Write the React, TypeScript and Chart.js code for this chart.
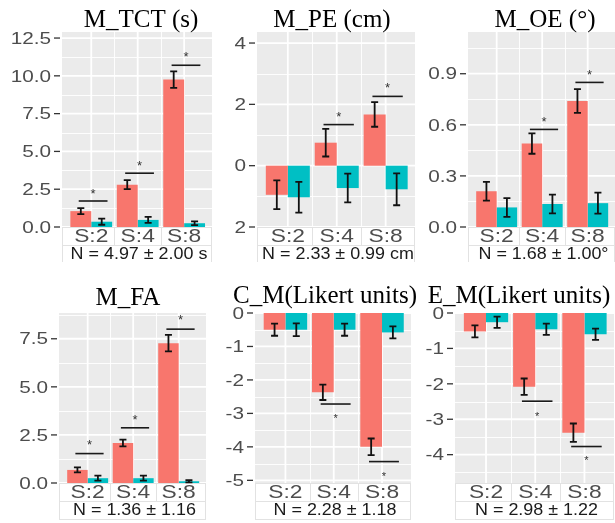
import React, { useEffect, useRef } from 'react';
import { Chart, registerables } from 'chart.js';
Chart.register(...registerables);

// ---------- data ----------
const categories = ['S:2', 'S:4', 'S:8'];

// M_TCT (s)
const tctRed = [1.05, 2.8, 9.75];
const tctRedErr = [0.2, 0.3, 0.55];
const tctTeal = [0.35, 0.47, 0.25];
const tctTealErr = [0.2, 0.2, 0.12];
const tctSig = [1.72, 3.56, 10.7];
const tctStar = [2.45, 4.3, 11.5];
const tctTicks = [0, 2.5, 5, 7.5, 10, 12.5];
const tctTickLabels = ['0.0', '2.5', '5.0', '7.5', '10.0', '12.5'];
const tctMinor = [1.25, 3.75, 6.25, 8.75, 11.25];

// M_PE (cm)
const peRed = [-0.95, 0.75, 1.67];
const peRedErr = [0.47, 0.45, 0.4];
const peTeal = [-1.03, -0.73, -0.77];
const peTealErr = [0.5, 0.47, 0.52];
const peSig = [null, 1.34, 2.26];
const peStar = [null, 1.69, 2.64];
const peTicks = [-2, 0, 2, 4];
const peTickLabels = ['2', '0', '2', '4'];
const peMinor = [-1, 1, 3];

// M_OE (°)
const oeRed = [0.21, 0.49, 0.74];
const oeRedErr = [0.055, 0.06, 0.07];
const oeTeal = [0.115, 0.135, 0.14];
const oeTealErr = [0.055, 0.055, 0.062];
const oeSig = [null, 0.573, 0.849];
const oeStar = [null, 0.638, 0.916];
const oeTicks = [0, 0.3, 0.6, 0.9];
const oeTickLabels = ['0.0', '0.3', '0.6', '0.9'];
const oeMinor = [0.15, 0.45, 0.75, 1.05];

// M_FA
const faRed = [0.68, 2.08, 7.27];
const faRedErr = [0.13, 0.18, 0.43];
const faTeal = [0.25, 0.25, 0.09];
const faTealErr = [0.13, 0.13, 0.06];
const faSig = [1.53, 2.87, 8.0];
const faStar = [2.14, 3.44, 8.65];
const faTicks = [0, 2.5, 5, 7.5];
const faTickLabels = ['0.0', '2.5', '5.0', '7.5'];
const faMinor = [1.25, 3.75, 6.25, 8.75];

// C_M (Likert units)
const cmRed = [-0.5, -2.37, -4.0];
const cmRedErr = [0.18, 0.23, 0.25];
const cmTeal = [-0.5, -0.5, -0.58];
const cmTealErr = [0.19, 0.18, 0.18];
const cmSig = [null, -2.72, -4.44];
const cmStar = [null, -3.07, -4.8];
const cmTicks = [-5, -4, -3, -2, -1, 0];
const cmTickLabels = ['-5', '-4', '-3', '-2', '-1', '0'];
const cmMinor = [-4.5, -3.5, -2.5, -1.5, -0.5];

// E_M (Likert units)
const emRed = [-0.52, -2.08, -3.38];
const emRedErr = [0.17, 0.23, 0.26];
const emTeal = [-0.26, -0.46, -0.6];
const emTealErr = [0.16, 0.16, 0.16];
const emSig = [null, -2.49, -3.77];
const emStar = [null, -2.84, -4.08];
const emTicks = [-4, -3, -2, -1, 0];
const emTickLabels = ['-4', '-3', '-2', '-1', '0'];
const emMinor = [-4.5, -3.5, -2.5, -1.5, -0.5];

// ---------- styles / layout ----------
const RED = '#F8766D';
const TEAL = '#00BFC4';
const PANEL_BG = '#EBEBEB';
const AXIS_TEXT = '#4D4D4D';
const XMIN = 0.37;
const XMAX = 3.6;

type Panel = {
  title: string; nText: string;
  red: number[]; redErr: number[]; teal: number[]; tealErr: number[];
  sig: (number | null)[]; star: (number | null)[];
  ticks: number[]; tickLabels: string[]; minor: number[];
  yMin: number; yMax: number;
  left: number; top: number; w: number; h: number;
  pl: number; pr: number; pt: number; pb: number;
  titleX: number; titleY: number; starSize: number;
};

const panels: Panel[] = [
  { title: 'M_TCT (s)', nText: 'N = 4.97 ± 2.00 s', red: tctRed, redErr: tctRedErr, teal: tctTeal, tealErr: tctTealErr,
    sig: tctSig, star: tctStar, ticks: tctTicks, tickLabels: tctTickLabels, minor: tctMinor, yMin: 0, yMax: 12.9,
    left: 0, top: 0, w: 214, h: 262, pl: 62, pr: 2, pt: 32, pb: 35, titleX: 141, titleY: 27, starSize: 13 },
  { title: 'M_PE (cm)', nText: 'N = 2.33 ± 0.99 cm', red: peRed, redErr: peRedErr, teal: peTeal, tealErr: peTealErr,
    sig: peSig, star: peStar, ticks: peTicks, tickLabels: peTickLabels, minor: peMinor, yMin: -2, yMax: 4.36,
    left: 214, top: 0, w: 204, h: 262, pl: 43, pr: 3, pt: 32, pb: 35, titleX: 332, titleY: 27, starSize: 13 },
  { title: 'M_OE (°)', nText: 'N = 1.68 ± 1.00°', red: oeRed, redErr: oeRedErr, teal: oeTeal, tealErr: oeTealErr,
    sig: oeSig, star: oeStar, ticks: oeTicks, tickLabels: oeTickLabels, minor: oeMinor, yMin: 0, yMax: 1.145,
    left: 418, top: 0, w: 197, h: 262, pl: 50, pr: 0, pt: 32, pb: 35, titleX: 545, titleY: 27, starSize: 13 },
  { title: 'M_FA', nText: 'N = 1.36 ± 1.16', red: faRed, redErr: faRedErr, teal: faTeal, tealErr: faTealErr,
    sig: faSig, star: faStar, ticks: faTicks, tickLabels: faTickLabels, minor: faMinor, yMin: 0, yMax: 8.84,
    left: 0, top: 262, w: 212, h: 261, pl: 59, pr: 6, pt: 51, pb: 40, titleX: 128, titleY: 305, starSize: 13 },
  { title: 'C_M(Likert units)', nText: 'N = 2.28 ± 1.18', red: cmRed, redErr: cmRedErr, teal: cmTeal, tealErr: cmTealErr,
    sig: cmSig, star: cmStar, ticks: cmTicks, tickLabels: cmTickLabels, minor: cmMinor, yMin: -5.08, yMax: 0,
    left: 212, top: 262, w: 210, h: 261, pl: 43, pr: 11, pt: 51, pb: 40, titleX: 325, titleY: 303, starSize: 11 },
  { title: 'E_M(Likert units)', nText: 'N = 2.98 ± 1.22', red: emRed, redErr: emRedErr, teal: emTeal, tealErr: emTealErr,
    sig: emSig, star: emStar, ticks: emTicks, tickLabels: emTickLabels, minor: emMinor, yMin: -4.8, yMax: 0,
    left: 422, top: 262, w: 193, h: 261, pl: 33, pr: 1, pt: 51, pb: 40, titleX: 519, titleY: 303, starSize: 11 },
];

function txt(ctx: CanvasRenderingContext2D, s: string, x: number, y: number, font: string, color: string,
  align: CanvasTextAlign, sx: number, baseline: CanvasTextBaseline = 'middle') {
  ctx.save();
  ctx.translate(x, y);
  ctx.scale(sx, 1);
  ctx.font = font;
  ctx.fillStyle = color;
  ctx.textAlign = align;
  ctx.textBaseline = baseline;
  ctx.fillText(s, 0, 0);
  ctx.restore();
}

function makeBgPlugin(p: Panel) {
  return {
    id: 'bgPanel',
    beforeDatasetsDraw(chart: any) {
      const ctx: CanvasRenderingContext2D = chart.ctx;
      const { left: l, right: r, top: t, bottom: b } = chart.chartArea;
      const xs = chart.scales.x;
      const ys = chart.scales.y;
      ctx.save();
      ctx.fillStyle = PANEL_BG;
      ctx.fillRect(l, t, r - l, b - t);
      ctx.strokeStyle = '#FFFFFF';
      // minor grid
      ctx.lineWidth = 0.9;
      for (const v of p.minor) {
        const y = Math.round(ys.getPixelForValue(v)) + 0.5;
        ctx.beginPath(); ctx.moveTo(l, y); ctx.lineTo(r, y); ctx.stroke();
      }
      for (const v of [1.5, 2.5]) {
        const x = Math.round(xs.getPixelForValue(v)) + 0.5;
        ctx.beginPath(); ctx.moveTo(x, t); ctx.lineTo(x, b); ctx.stroke();
      }
      // major grid
      ctx.lineWidth = 1.8;
      for (const v of p.ticks) {
        const y = ys.getPixelForValue(v);
        ctx.beginPath(); ctx.moveTo(l, y); ctx.lineTo(r, y); ctx.stroke();
      }
      categories.forEach((_, i) => {
        const x = xs.getPixelForValue(i + 1);
        ctx.beginPath(); ctx.moveTo(x, t); ctx.lineTo(x, b); ctx.stroke();
      });
      // y tick marks + labels
      ctx.strokeStyle = '#333333';
      ctx.lineWidth = 1.3;
      p.ticks.forEach((v, i) => {
        const y = ys.getPixelForValue(v);
        ctx.beginPath(); ctx.moveTo(l - 8, y); ctx.lineTo(l - 2, y); ctx.stroke();
        txt(ctx, p.tickLabels[i], l - 11, y + 1, '17px "Liberation Sans", Arial, sans-serif', AXIS_TEXT, 'right', 1.22);
      });
      // label cells
      ctx.strokeStyle = '#E2E2E2';
      ctx.lineWidth = 1;
      ctx.strokeRect(l + 0.5, b + 0.5, r - l - 1, 18);
      ctx.strokeRect(l + 0.5, b + 18.5, r - l - 1, 18);
      for (const v of [1.5, 2.5]) {
        const x = Math.round(xs.getPixelForValue(v)) + 0.5;
        ctx.beginPath(); ctx.moveTo(x, b); ctx.lineTo(x, b + 18); ctx.stroke();
      }
      categories.forEach((c, i) => {
        txt(ctx, c, xs.getPixelForValue(i + 1), b + 10, '19px "Liberation Sans", Arial, sans-serif', AXIS_TEXT, 'center', 1.2);
      });
      txt(ctx, p.nText, (l + r) / 2 + 2, b + 28, '16px "Liberation Sans", Arial, sans-serif', '#1A1A1A', 'center', 1.12);
      // title
      txt(ctx, p.title, p.titleX - p.left, p.titleY - p.top, '25px "Liberation Serif", "Times New Roman", serif', '#000000', 'center', 1, 'alphabetic');
      ctx.restore();
    },
  };
}

function makeFgPlugin(p: Panel) {
  return {
    id: 'fgPanel',
    afterDatasetsDraw(chart: any) {
      const ctx: CanvasRenderingContext2D = chart.ctx;
      const xs = chart.scales.x;
      const ys = chart.scales.y;
      ctx.save();
      ctx.strokeStyle = '#111111';
      ctx.lineWidth = 1.8;
      const sets = [[p.red, p.redErr], [p.teal, p.tealErr]];
      sets.forEach(([vals, errs], di) => {
        const meta = chart.getDatasetMeta(di);
        vals.forEach((v, i) => {
          const x = meta.data[i].x;
          const y1 = ys.getPixelForValue(v + errs[i]);
          const y2 = ys.getPixelForValue(v - errs[i]);
          ctx.beginPath();
          ctx.moveTo(x, y1); ctx.lineTo(x, y2);
          ctx.moveTo(x - 3.5, y1); ctx.lineTo(x + 3.5, y1);
          ctx.moveTo(x - 3.5, y2); ctx.lineTo(x + 3.5, y2);
          ctx.stroke();
        });
      });
      // significance lines and stars
      ctx.strokeStyle = '#1A1A1A';
      ctx.lineWidth = 1.6;
      p.sig.forEach((s, i) => {
        if (s === null) return;
        const x1 = xs.getPixelForValue(i + 1 - 0.27);
        const x2 = xs.getPixelForValue(i + 1 + 0.35);
        const y = ys.getPixelForValue(s);
        ctx.beginPath(); ctx.moveTo(x1, y); ctx.lineTo(x2, y); ctx.stroke();
        const st = p.star[i];
        if (st !== null) {
          const sy = ys.getPixelForValue(st);
          txt(ctx, '*', (x1 + x2) / 2, sy + p.starSize * 0.58, `${p.starSize}px "Liberation Sans", Arial, sans-serif`, '#333333', 'center', 1, 'alphabetic');
        }
      });
      ctx.restore();
    },
  };
}

function PanelChart({ p }: { p: Panel }) {
  const ref = useRef<HTMLCanvasElement>(null);
  useEffect(() => {
    const canvas = ref.current!;
    const chart = new Chart(canvas, {
      type: 'bar',
      data: {
        datasets: [
          { label: 'a', data: p.red.map((v, i) => ({ x: i + 1, y: v })), backgroundColor: RED, borderWidth: 0 },
          { label: 'b', data: p.teal.map((v, i) => ({ x: i + 1, y: v })), backgroundColor: TEAL, borderWidth: 0 },
        ],
      } as any,
      options: {
        responsive: false,
        animation: false,
        devicePixelRatio: 1,
        layout: { padding: { left: p.pl, right: p.pr, top: p.pt, bottom: p.pb } },
        plugins: { legend: { display: false }, tooltip: { enabled: false }, title: { display: false } },
        datasets: { bar: { categoryPercentage: 0.9, barPercentage: 1 } },
        scales: {
          x: { type: 'linear', min: XMIN, max: XMAX, display: false, offset: false },
          y: { type: 'linear', min: p.yMin, max: p.yMax, display: false },
        },
      } as any,
      plugins: [makeBgPlugin(p), makeFgPlugin(p)],
    });
    return () => chart.destroy();
  }, [p]);
  return (
    <canvas
      ref={ref}
      width={p.w}
      height={p.h}
      style={{ position: 'absolute', left: p.left, top: p.top, width: p.w, height: p.h }}
    />
  );
}

export default function App() {
  return (
    <div style={{ position: 'absolute', left: 0, top: 0, width: 615, height: 523, background: '#FFFFFF', overflow: 'hidden' }}>
      {panels.map((p, i) => (
        <PanelChart key={i} p={p} />
      ))}
    </div>
  );
}
